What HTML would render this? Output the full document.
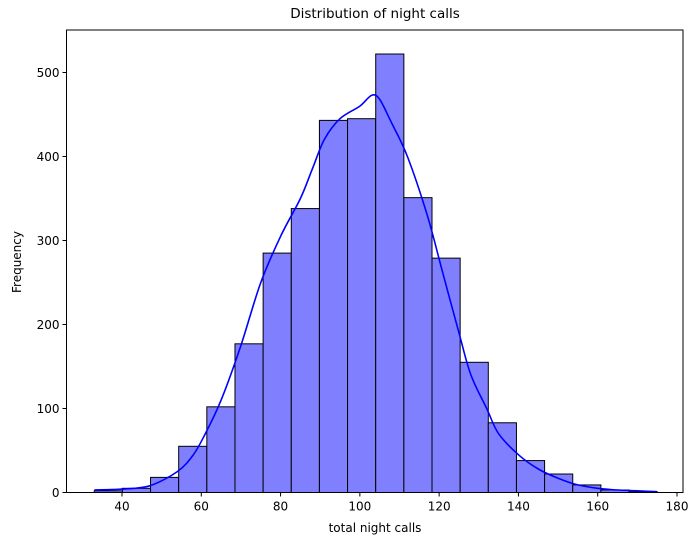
<!DOCTYPE html>
<html><head><meta charset="utf-8"><style>
body{margin:0;background:#fff;font-family:"Liberation Sans","DejaVu Sans",sans-serif}
svg text{font-family:"DejaVu Sans","Liberation Sans",sans-serif}
</style></head><body>
<svg id="chart" width="700" height="545">
<text x="375" y="18" text-anchor="middle" font-size="13.5">Distribution of night calls</text>
<text x="375" y="532" text-anchor="middle" font-size="12">total night calls</text>
<text x="21" y="262" text-anchor="middle" font-size="12" transform="rotate(-90 21 262)">Frequency</text>
<g id="bars"></g><g id="kde"></g><g id="axes"></g>
</svg>
<script>
const binStart = 33, binEnd = 175;
const counts = [2,5,18,55,102,177,285,338,443,445,522,351,279,155,83,38,22,9,3,1];
const kdeX = [33,40,47,54,58,61,65,70,75,80,85,88,91,95,100,103,105,108,112,117,121,125,128,132,135,140,145,150,155,160,165,170,175];
const kdeY = [3,4,8,25,45,70,110,175,250,305,350,385,420,445,460,473,468,440,400,330,260,190,140,100,70,45,28,17,9,5,3,2,1];
const xTicks = [40,60,80,100,120,140,160,180];
const yTicks = [0,100,200,300,400,500];
const L=66.5,R=683,T=30,B=492.5;
const sx=v=>122+(v-40)*(677-122)/140;
const sy=v=>492.5-v*0.84;
const NS="http://www.w3.org/2000/svg";
function mk(tag,attrs,parent){const e=document.createElementNS(NS,tag);for(const k in attrs)e.setAttribute(k,attrs[k]);parent.appendChild(e);return e;}
const gb=document.getElementById('bars'),gk=document.getElementById('kde'),ga=document.getElementById('axes');
const w=(binEnd-binStart)/counts.length;
counts.forEach((c,i)=>{
  const x0=sx(binStart+i*w),x1=sx(binStart+(i+1)*w);
  const r=mk('rect',{x:x0,y:sy(c),width:x1-x0,height:sy(0)-sy(c),fill:'#8080ff',stroke:'#000','stroke-width':1},gb);
  
  
});
const pts=kdeX.map((x,i)=>[sx(x),sy(kdeY[i])]);
let d='M'+pts[0][0].toFixed(1)+','+pts[0][1].toFixed(1);
for(let i=0;i<pts.length-1;i++){
  const p0=pts[Math.max(0,i-1)],p1=pts[i],p2=pts[i+1],p3=pts[Math.min(pts.length-1,i+2)];
  const c1=[p1[0]+(p2[0]-p0[0])/6,p1[1]+(p2[1]-p0[1])/6];
  const c2=[p2[0]-(p3[0]-p1[0])/6,p2[1]-(p3[1]-p1[1])/6];
  d+='C'+c1.map(v=>v.toFixed(1)).join(',')+' '+c2.map(v=>v.toFixed(1)).join(',')+' '+p2.map(v=>v.toFixed(1)).join(',');
}
const p=mk('path',{d:d,fill:'none',stroke:'#0000ff','stroke-width':1.6},gk);


const fr=mk('rect',{x:L,y:T,width:R-L,height:B-T,fill:'none',stroke:'#000','stroke-width':1},ga);


xTicks.forEach(t=>{
  mk('line',{x1:sx(t),x2:sx(t),y1:B,y2:B+4,stroke:'#000'},ga);
  const tx=mk('text',{x:sx(t),y:B+18,'text-anchor':'middle','font-size':12},ga);
  tx.textContent=t;
  
  
});
yTicks.forEach(t=>{
  mk('line',{x1:L-4,x2:L,y1:sy(t),y2:sy(t),stroke:'#000'},ga);
  const tx=mk('text',{x:L-7,y:sy(t)+4.5,'text-anchor':'end','font-size':12},ga);
  tx.textContent=t;
  
  
});
</script>
</body></html>
